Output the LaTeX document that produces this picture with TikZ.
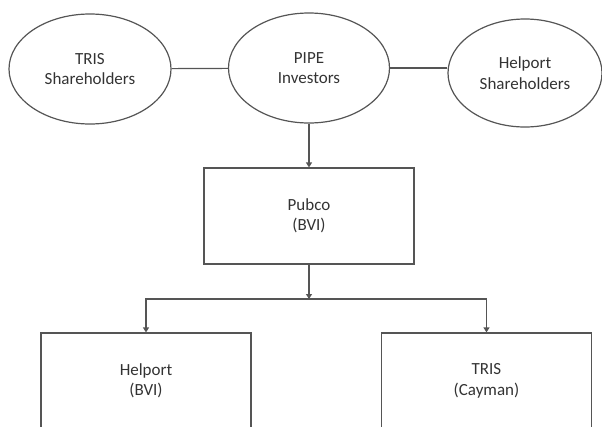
\documentclass[tikz,border=0pt]{standalone}
\usepackage{fontspec}
\setmainfont{Carlito}
\usetikzlibrary{shapes.geometric,arrows.meta}
\definecolor{linegray}{HTML}{555555}
\definecolor{textgray}{HTML}{333333}
\begin{document}
\begin{tikzpicture}[x=1pt,y=-1pt,
  every node/.style={font=\fontsize{17}{20.5}\selectfont, text=textgray, align=center, inner sep=0pt},
  oval/.style={ellipse, draw=linegray, line width=1.2pt},
  entity/.style={rectangle, draw=linegray, line width=1.2pt, minimum width=210pt, minimum height=96pt},
  link/.style={draw=linegray, line width=1.2pt},
  arr/.style={link, -{Triangle[width=6pt,length=5pt]}}]
\useasboundingbox (0,0) rectangle (602,426);
\node[oval, minimum width=162pt, minimum height=110pt] (trisSh) at (90,69) {TRIS\\Shareholders};
\node[oval, minimum width=161pt, minimum height=110pt] (pipe) at (309,68) {PIPE\\Investors};
\node[oval, minimum width=154pt, minimum height=108pt] (helSh) at (525,73) {Helport\\Shareholders};
\node[entity] (pubco) at (309,216) {Pubco\\(BVI)};
\node[entity] (helport) at (146,381) {Helport\\(BVI)};
\node[entity] (tris) at (486.5,381) {TRIS\\(Cayman)};
\coordinate (junc) at (309,299);
\draw[link] (trisSh) -- (pipe);
\draw[link] (pipe.east) -- (pipe.east -| helSh.west);
\draw[arr] (pipe.south) -- (pubco.north);
\draw[arr] (pubco.south) -- (junc);
\draw[arr] (junc) -| (helport.north);
\draw[arr] (junc) -| (tris.north);
\end{tikzpicture}
\end{document}
